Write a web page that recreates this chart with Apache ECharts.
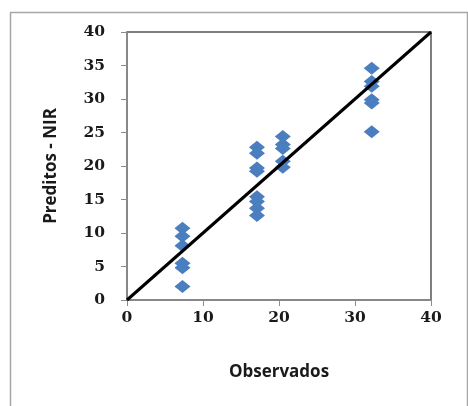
<!DOCTYPE html>
<html>
<head>
<meta charset="utf-8">
<script src="https://cdn.jsdelivr.net/npm/echarts@6/dist/echarts.min.js"></script>
<style>
  html, body { margin: 0; padding: 0; background: #fff; }
  #main { width: 468px; height: 406px; }
</style>
</head>
<body>
<div id="main"></div>
<script>
// valores
var observados = [7.3, 7.3, 7.3, 7.3, 7.3, 7.3,
                  17.1, 17.1, 17.1, 17.1, 17.1, 17.1, 17.1, 17.1,
                  20.5, 20.5, 20.5, 20.5, 20.5,
                  32.2, 32.2, 32.2, 32.2, 32.2, 32.2];
var preditos = [10.7, 9.5, 8.1, 5.5, 4.8, 2.0,
                22.8, 21.9, 19.7, 19.2, 15.4, 14.7, 13.7, 12.6,
                24.4, 23.2, 22.6, 20.7, 19.8,
                34.6, 32.6, 31.9, 29.9, 29.4, 25.1];
// linha 1:1
var linhaX = [0, 40];
var linhaY = [0, 40];

window.onload = function () {
  var myChart = echarts.init(document.getElementById('main'));

  var pontos = observados.map(function (x, i) { return [x, preditos[i]]; });
  var linha = linhaX.map(function (x, i) { return [x, linhaY[i]]; });

  var tickFont = {
    fontFamily: 'DejaVu Serif',
    fontWeight: 'bold',
    fontSize: 15.5,
    color: '#1a1a1a'
  };
  var nameFont = {
    fontFamily: 'Open Sans',
    fontWeight: 'bold',
    fontSize: 17,
    color: '#1a1a1a'
  };

  var option = {
    animation: false,
    graphic: [{
      type: 'rect',
      left: 8, top: 10,
      shape: { width: 457, height: 420 },
      style: { fill: 'none', stroke: '#a6a6a6', lineWidth: 1.5 },
      silent: true
    }],
    grid: {
      left: 127, top: 32, width: 304, height: 268,
      show: true,
      borderColor: '#555',
      borderWidth: 1.5,
      backgroundColor: '#fff'
    },
    xAxis: {
      type: 'value',
      min: 0, max: 40, interval: 10,
      name: 'Observados',
      nameLocation: 'middle',
      nameGap: 64,
      nameTextStyle: nameFont,
      axisLine: { show: true, lineStyle: { color: '#8c8c8c', width: 1.5 } },
      axisTick: { show: true, length: 6, lineStyle: { color: '#8c8c8c' } },
      axisLabel: Object.assign({ margin: 10 }, tickFont),
      splitLine: { show: false }
    },
    yAxis: {
      type: 'value',
      min: 0, max: 40, interval: 5,
      name: 'Preditos - NIR',
      nameLocation: 'middle',
      nameGap: 67,
      nameTextStyle: nameFont,
      axisLine: { show: true, lineStyle: { color: '#8c8c8c', width: 1.5 } },
      axisTick: { show: true, length: 6, lineStyle: { color: '#8c8c8c' } },
      axisLabel: Object.assign({ margin: 22 }, tickFont),
      splitLine: { show: false }
    },
    series: [
      {
        name: 'Preditos',
        type: 'scatter',
        data: pontos,
        symbol: 'diamond',
        symbolSize: [16, 13],
        itemStyle: { color: '#4a7ebf', opacity: 1 },
        z: 2
      },
      {
        name: '1:1',
        type: 'line',
        data: linha,
        showSymbol: false,
        symbol: 'none',
        lineStyle: { color: '#000', width: 3 },
        z: 3
      }
    ]
  };

  myChart.setOption(option);
};
</script>
</body>
</html>
